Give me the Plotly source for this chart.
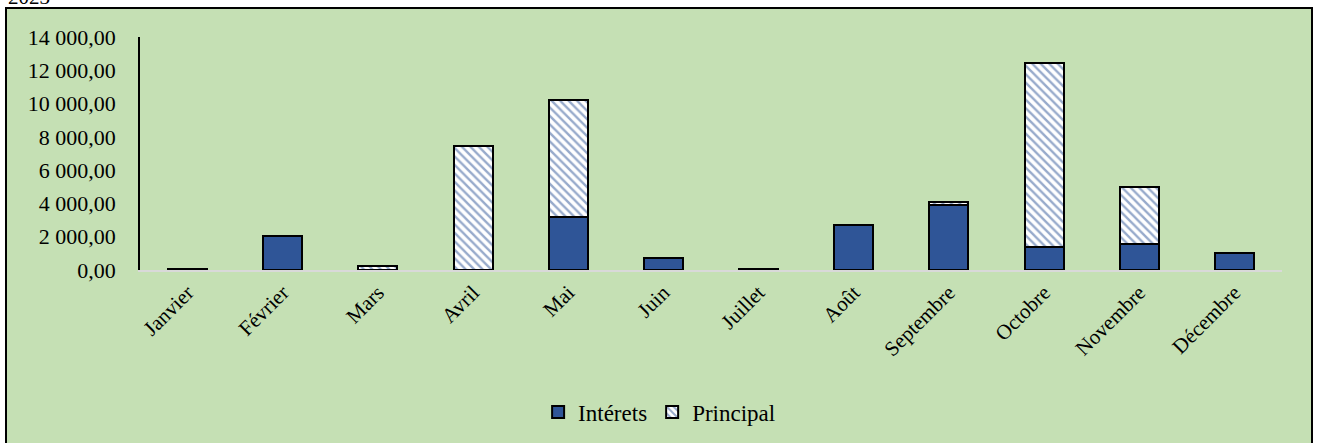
import plotly.graph_objects as go

mois = ["Janvier", "Février", "Mars", "Avril", "Mai", "Juin", "Juillet",
        "Août", "Septembre", "Octobre", "Novembre", "Décembre"]
interets = [80, 2050, 20, 0, 3200, 740, 90, 2700, 3890, 1400, 1560, 1000]
principal = [0, 0, 230, 7450, 7000, 0, 0, 0, 210, 11020, 3440, 0]

green = "#C5E0B4"
blue = "#2F5597"

fig = go.Figure()
fig.add_trace(go.Bar(x=mois, y=interets, name="Intérets",
                     marker=dict(color=blue, line=dict(color="black", width=2))))
fig.add_trace(go.Bar(x=mois, y=principal, name="Principal",
                     marker=dict(color="white", line=dict(color="black", width=2),
                                 pattern=dict(shape="\\", fgcolor=blue, bgcolor="white",
                                              size=6, solidity=0.4))))

fig.update_layout(
    barmode="stack", bargap=0.59,
    width=1320, height=443,
    margin=dict(l=140, r=38, t=37, b=173, autoexpand=False),
    paper_bgcolor="white", plot_bgcolor="rgba(0,0,0,0)",
    separators=", ",
    font=dict(family="Liberation Serif, Times New Roman, serif", size=21, color="black"),
    showlegend=True,
    legend=dict(orientation="h", x=0.455, xanchor="center", y=-0.61, yanchor="middle",
                traceorder="normal", bgcolor="rgba(0,0,0,0)", font=dict(size=23),
                itemwidth=30),
    shapes=[dict(type="rect", xref="paper", yref="paper", layer="below",
                 x0=-134 / 1142, x1=1172 / 1142, y0=-0.8, y1=262 / 233,
                 fillcolor=green, line=dict(color="black", width=2))],
    annotations=[dict(text="2023", xref="paper", yref="paper", x=-134 / 1142, y=273 / 233,
                      xanchor="left", yanchor="middle", showarrow=False,
                      font=dict(size=21))],
)
fig.update_yaxes(range=[0, 14000], tickvals=list(range(0, 14001, 2000)), tickformat=",.2f",
                 showgrid=False, zeroline=False, showline=True, linecolor="black",
                 linewidth=1.5, ticks="", automargin=False, ticklabelstandoff=18,
                 tickfont=dict(size=22))
fig.update_xaxes(tickangle=-45, showgrid=False, showline=True, linecolor="#D9D9D9",
                 linewidth=2, ticks="", automargin=False, tickfont=dict(size=21))

# drop the browser's default 8px body margin so the figure fills the window
fig.write_html("out.html", config={"displayModeBar": False},
               post_script="document.body.style.margin='0';document.body.style.overflow='hidden';")
